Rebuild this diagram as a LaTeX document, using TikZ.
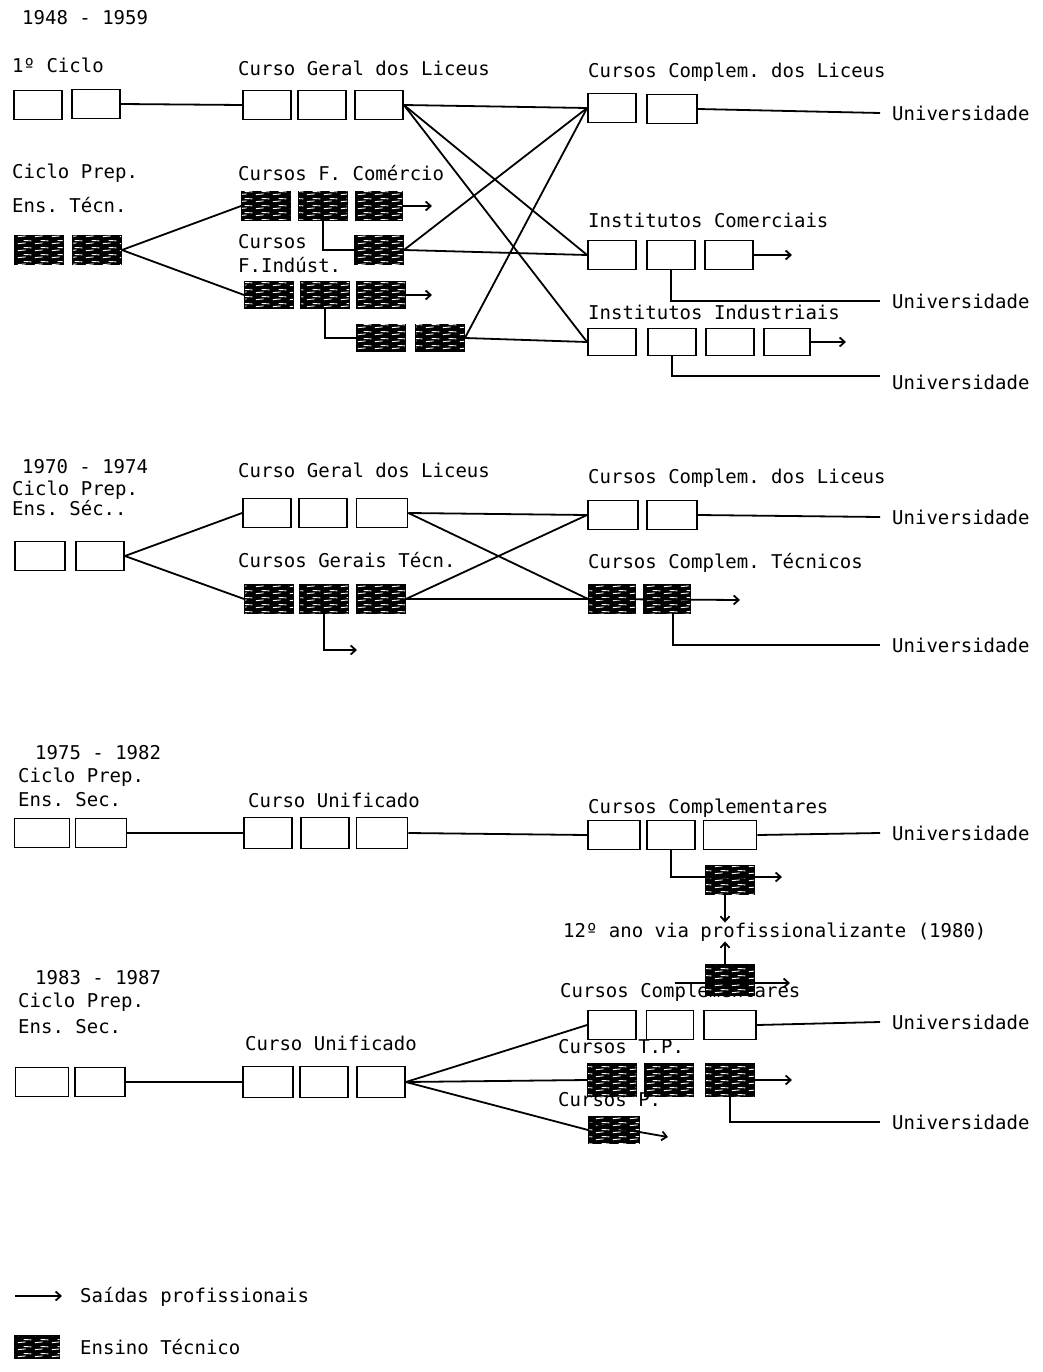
\documentclass[tikz,border=0pt]{standalone}
\usepackage{fontspec}
\setmonofont{DejaVu Sans Mono}
\usetikzlibrary{arrows.meta,patterns}
\pgfdeclarepatternformonly{streaks}{\pgfqpoint{0pt}{0pt}}{\pgfqpoint{17pt}{7pt}}{\pgfqpoint{17pt}{7pt}}{%
  \pgfsetlinewidth{1pt}%
  \pgfpathmoveto{\pgfqpoint{1pt}{1.5pt}}\pgfpathlineto{\pgfqpoint{9pt}{2.3pt}}%
  \pgfpathmoveto{\pgfqpoint{7pt}{5pt}}\pgfpathlineto{\pgfqpoint{15pt}{4.6pt}}%
  \pgfusepath{stroke}}
\begin{document}
\begin{tikzpicture}[x=1pt,y=-1pt,
  wbox/.style={draw, line width=1.8pt, minimum width=48pt, minimum height=29pt, inner sep=0pt},
  tbox/.style={wbox, fill=black, postaction={pattern=streaks, pattern color=white}},
  lbl/.style={anchor=west, inner sep=0pt, font=\ttfamily\fontsize{19}{21}\selectfont},
  ln/.style={line width=1.8pt},
  exitarrow/.style={line width=1.8pt, -{Straight Barb[length=5pt,width=9pt]}}]
\useasboundingbox (0,0) rectangle (1043,1372);

% ================= 1948 - 1959 =================
\node[lbl] (t1) at (22,18) {1948 - 1959};
\node[lbl] (l1a) at (12,65) {1º Ciclo};
\node[lbl] (l1b) at (238,68) {Curso Geral dos Liceus};
\node[lbl] (l1c) at (12,173) {Ciclo Prep.};
\node[lbl] (l1d) at (12,205) {Ens. Técn.};
\node[lbl] (l1e) at (238,173) {Cursos F. Comércio};
\node[lbl] (l1f) at (238,242) {Cursos};
\node[lbl] (l1g) at (238,265) {F.Indúst.};
\node[lbl] (l1h) at (588,72) {Cursos Complem. dos Liceus};
\node[lbl] (l1i) at (588,220) {Institutos Comerciais};
\node[lbl] (l1j) at (588,312) {Institutos Industriais};
\node[lbl] (u1a) at (892,113) {Universidade};
\node[lbl] (u1b) at (892,301) {Universidade};
\node[lbl] (u1c) at (892,382) {Universidade};

\node[wbox] (a1) at (38,105) {};
\node[wbox] (a2) at (96,104) {};
\node[wbox] (g1) at (267,105) {};
\node[wbox] (g2) at (322,105) {};
\node[wbox] (g3) at (379,105) {};
\node[wbox] (c1) at (612,108) {};
\node[wbox, minimum width=50pt] (c2) at (672,109) {};
\node[wbox] (ic1) at (612,255) {};
\node[wbox] (ic2) at (671,255) {};
\node[wbox] (ic3) at (729,255) {};
\node[wbox, minimum height=27pt] (ii1) at (612,342) {};
\node[wbox, minimum height=27pt] (ii2) at (672,342) {};
\node[wbox, minimum height=27pt] (ii3) at (730,342) {};
\node[wbox, minimum height=27pt, minimum width=46pt] (ii4) at (787,342) {};

\node[tbox] (p1) at (39,250) {};
\node[tbox] (p2) at (97,250) {};
\node[tbox, minimum height=28pt] (fc1) at (266,206) {};
\node[tbox, minimum height=28pt] (fc2) at (323,206) {};
\node[tbox, minimum height=28pt, minimum width=46pt] (fc3) at (379,206) {};
\node[tbox, minimum height=28pt] (fcx) at (379,250) {};
\node[tbox, minimum height=26pt] (fi1) at (269,295) {};
\node[tbox, minimum height=26pt] (fi2) at (325,295) {};
\node[tbox, minimum height=26pt] (fi3) at (381,295) {};
\node[tbox, minimum height=27pt] (fix1) at (381,338) {};
\node[tbox, minimum height=27pt] (fix2) at (440,338) {};

\coordinate (fce) at (432,206);
\coordinate (fie) at (432,295);
\coordinate (ice) at (792,255);
\coordinate (iie) at (846,342);

\draw[ln] (a2.east) -- (g1.west);
\draw[ln] (p2.east) -- (fc1.west);
\draw[ln] (p2.east) -- (fi1.west);
\draw[exitarrow] (fc3.east) -- (fce);
\draw[exitarrow] (fi3.east) -- (fie);
\draw[ln] (fc2.south) |- (fcx.west);
\draw[ln] (fi2.south) |- (fix1.west);
\draw[ln] (g3.east) -- (c1.west);
\draw[ln] (g3.east) -- (ic1.west);
\draw[ln] (g3.east) -- (ii1.west);
\draw[ln] (fcx.east) -- (c1.west);
\draw[ln] (fcx.east) -- (ic1.west);
\draw[ln] (fix2.east) -- (c1.west);
\draw[ln] (fix2.east) -- (ii1.west);
\draw[ln] (c2.east) -- ([xshift=-12pt]u1a.west);
\draw[exitarrow] (ic3.east) -- (ice);
\draw[ln] (ic2.south) |- ([xshift=-12pt]u1b.west);
\draw[exitarrow] (ii4.east) -- (iie);
\draw[ln] (ii2.south) |- ([xshift=-12pt, yshift=6pt]u1c.west);

% ================= 1970 - 1974 =================
\node[lbl] (t2) at (22,467) {1970 - 1974};
\node[lbl] (l2a) at (12,490) {Ciclo Prep.};
\node[lbl] (l2b) at (12,508) {Ens. Séc..};
\node[lbl] (l2c) at (238,470) {Curso Geral dos Liceus};
\node[lbl] (l2d) at (238,560) {Cursos Gerais Técn.};
\node[lbl] (l2e) at (588,478) {Cursos Complem. dos Liceus};
\node[lbl] (l2f) at (588,563) {Cursos Complem. Técnicos};
\node[lbl] (u2a) at (892,517) {Universidade};
\node[lbl] (u2b) at (892,645) {Universidade};

\node[wbox, minimum width=50pt] (s1) at (40,556) {};
\node[wbox] (s2) at (100,556) {};
\node[wbox] (h1) at (267,513) {};
\node[wbox] (h2) at (323,513) {};
\node[wbox, minimum width=51pt] (h3) at (382,513) {};
\node[tbox, minimum height=28pt] (k1) at (269,599) {};
\node[tbox, minimum height=28pt] (k2) at (324,599) {};
\node[tbox, minimum height=28pt] (k3) at (381,599) {};
\node[wbox, minimum width=50pt] (d1) at (613,515) {};
\node[wbox, minimum width=50pt] (d2) at (672,515) {};
\node[tbox, minimum width=46pt, minimum height=28pt] (ct1) at (612,599) {};
\node[tbox, minimum width=46pt, minimum height=28pt] (ct2) at (667,599) {};

\coordinate (k2e) at (357,650);
\coordinate (cte) at (740,600);

\draw[ln] (s2.east) -- (h1.west);
\draw[ln] (s2.east) -- (k1.west);
\draw[ln] (h3.east) -- (d1.west);
\draw[ln] (h3.east) -- (ct1.west);
\draw[ln] (k3.east) -- (d1.west);
\draw[ln] (k3.east) -- (ct1.west);
\draw[exitarrow] (k2.south) |- (k2e);
\draw[ln] (d2.east) -- ([xshift=-12pt]u2a.west);
\draw[exitarrow] (ct1.west) -- (cte);
\draw[ln] ([xshift=6pt]ct2.south) |- ([xshift=-12pt]u2b.west);

% ================= 1975 - 1982 =================
\node[lbl] (t3) at (35,753) {1975 - 1982};
\node[lbl] (l3a) at (18,777) {Ciclo Prep.};
\node[lbl] (l3b) at (18,800) {Ens. Sec.};
\node[lbl] (l3c) at (248,800) {Curso Unificado};
\node[lbl] (l3d) at (588,808) {Cursos Complementares};
\node[lbl] (u3a) at (892,833) {Universidade};
\node[lbl] (l3e) at (563,932) {12º ano via profissionalizante (1980)};

\node[wbox, minimum width=55pt] (e1) at (42,833) {};
\node[wbox, minimum width=51pt] (e2) at (101,833) {};
\node[wbox, minimum height=31pt] (v1) at (268,833) {};
\node[wbox, minimum height=31pt] (v2) at (325,833) {};
\node[wbox, minimum height=31pt, minimum width=51pt] (v3) at (382,833) {};
\node[wbox, minimum width=52pt] (cc1) at (614,835) {};
\node[wbox] (cc2) at (671,835) {};
\node[wbox, minimum width=53pt] (cc3) at (730,835) {};
\node[tbox, minimum height=28pt] (m1) at (730,880) {};

\coordinate (m1e) at (782,877);

\draw[ln] (e2.east) -- (v1.west);
\draw[ln] (v3.east) -- (cc1.west);
\draw[ln] (cc3.east) -- ([xshift=-12pt]u3a.west);
\draw[exitarrow] (cc2.south) |- (m1e);
\draw[exitarrow] ([xshift=-5pt]m1.south) -- ([xshift=-5pt]m1.south |- l3e.north);

% ================= 1983 - 1987 =================
\node[lbl] (t4) at (35,978) {1983 - 1987};
\node[lbl] (l4a) at (18,1002) {Ciclo Prep.};
\node[lbl] (l4b) at (18,1027) {Ens. Sec.};
\node[lbl] (l4c) at (245,1043) {Curso Unificado};
\node[lbl] (l4d) at (560,992) {Cursos Complementares};
\node[lbl] (l4e) at (558,1047) {Cursos T.P.};
\node[lbl] (l4f) at (558,1100) {Cursos P.};
\node[lbl] (u4a) at (892,1022) {Universidade};
\node[lbl] (u4b) at (892,1122) {Universidade};

\node[wbox, minimum width=53pt] (f1) at (42,1082) {};
\node[wbox, minimum width=50pt] (f2) at (100,1082) {};
\node[wbox, minimum width=50pt, minimum height=31pt] (w1) at (268,1082) {};
\node[wbox, minimum height=31pt] (w2) at (324,1082) {};
\node[wbox, minimum height=31pt] (w3) at (381,1082) {};
\node[tbox, minimum height=30pt] (m2) at (730,980) {};
\node[wbox] (x1) at (612,1025) {};
\node[wbox, minimum width=47pt] (x2) at (670,1025) {};
\node[wbox, minimum width=52pt] (x3) at (730,1025) {};
\node[tbox, minimum height=32pt] (tp1) at (612,1080) {};
\node[tbox, minimum height=32pt] (tp2) at (669,1080) {};
\node[tbox, minimum height=32pt] (tp3) at (730,1080) {};
\node[tbox, minimum width=50pt, minimum height=26pt] (pp) at (614,1130) {};

\coordinate (m2s) at (675,983);
\coordinate (m2e) at (790,983);
\coordinate (tpe) at (792,1080);
\coordinate (ppe) at (668,1137);

\draw[exitarrow] (m2s) -- (m2e);
\draw[exitarrow] ([xshift=-5pt]m2.north) -- ([xshift=-5pt]m2.north |- l3e.south);
\draw[ln] (f2.east) -- (w1.west);
\draw[ln] (w3.east) -- (x1.west);
\draw[ln] (w3.east) -- (tp1.west);
\draw[ln] (w3.east) -- (pp.west);
\draw[ln] (x3.east) -- ([xshift=-12pt]u4a.west);
\draw[exitarrow] (tp3.east) -- (tpe);
\draw[ln] (tp3.south) |- ([xshift=-12pt]u4b.west);
\draw[exitarrow] ([yshift=7pt]pp.west) -- (ppe);

% ================= Legend =================
\coordinate (lg1) at (15,1296);
\coordinate (lg2) at (62,1296);
\draw[exitarrow] (lg1) -- (lg2);
\node[lbl] (lgt1) at (80,1297) {Saídas profissionais};
\node[tbox, minimum width=45pt, minimum height=22pt] (lgb) at (37,1347) {};
\node[lbl] (lgt2) at (80,1347) {Ensino Técnico};
\end{tikzpicture}
\end{document}
